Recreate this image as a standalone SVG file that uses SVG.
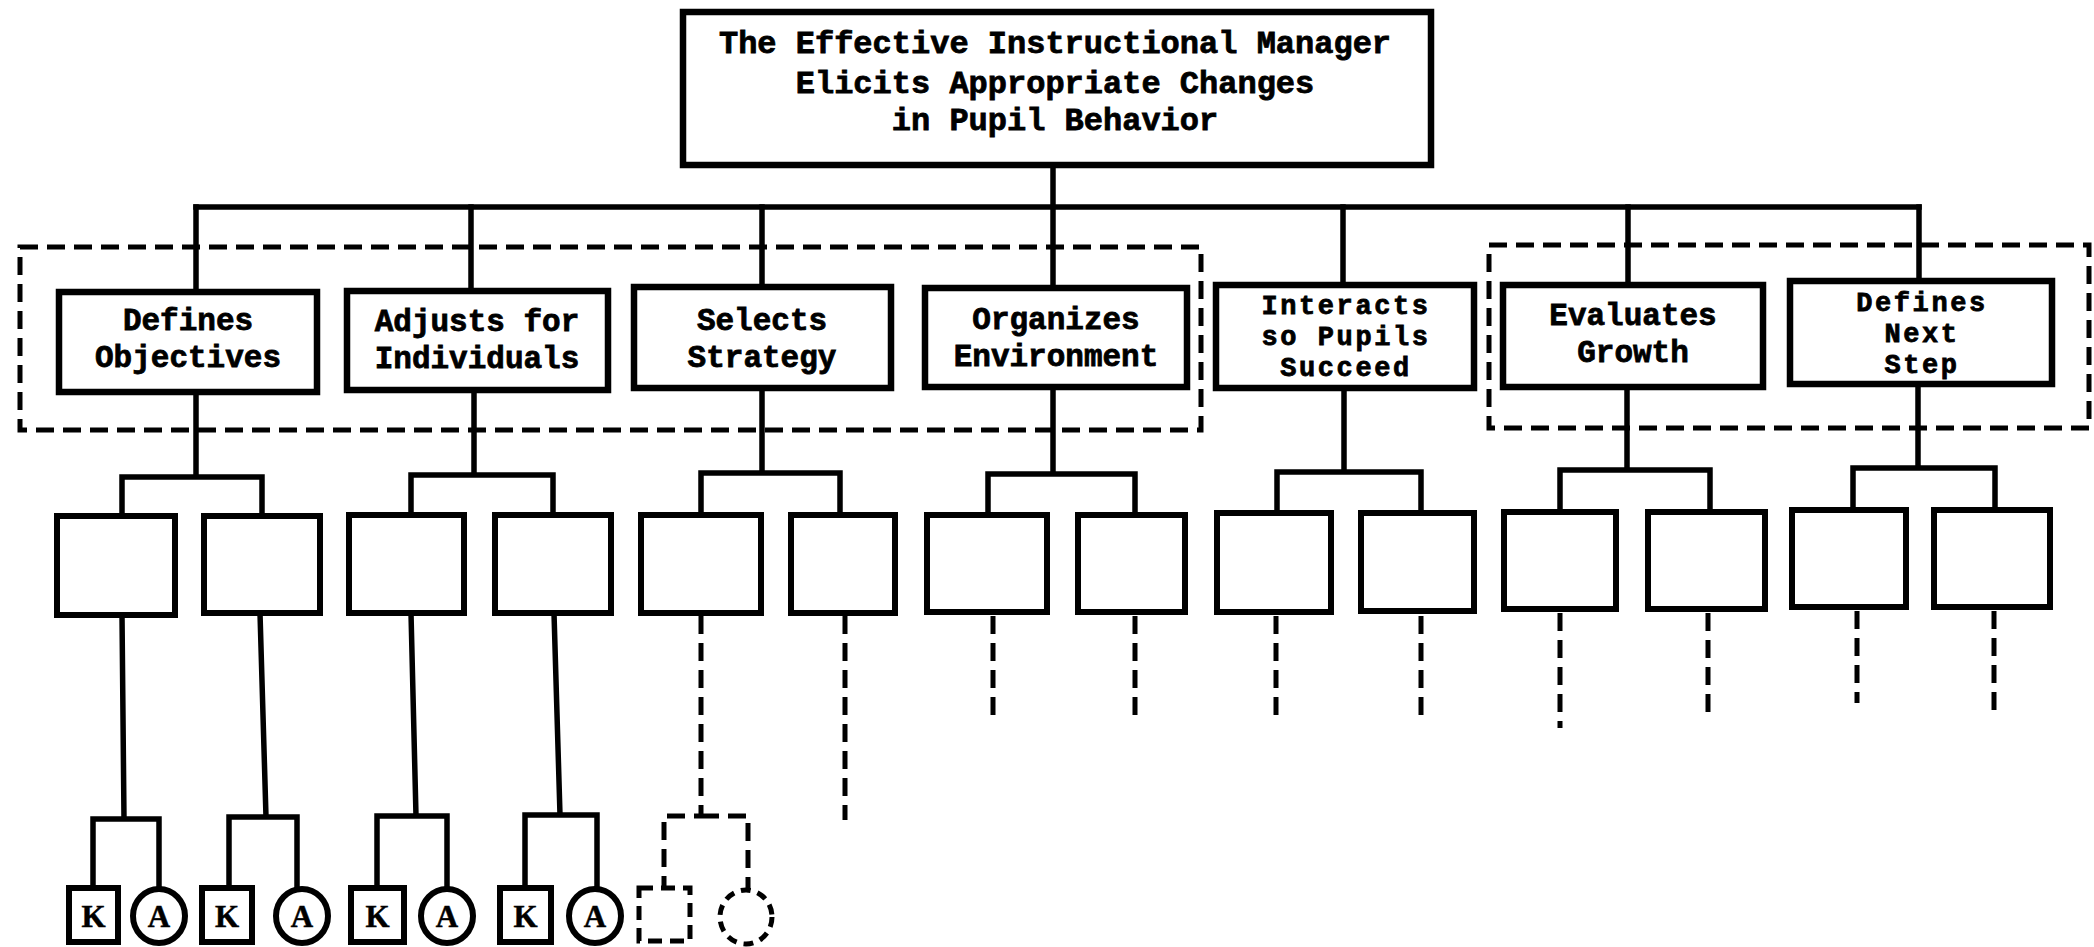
<svg xmlns="http://www.w3.org/2000/svg" width="2094" height="947" viewBox="0 0 2094 947">
<style>
.box{fill:#fff;stroke:#000;stroke-width:6.5;stroke-linejoin:miter}
.sbox{fill:#fff;stroke:#000;stroke-width:6}
.ln{fill:none;stroke:#000;stroke-width:5.5;stroke-linecap:square}
.dl{fill:none;stroke:#000;stroke-width:5;stroke-dasharray:18 9}
.grp{fill:none;stroke:#000;stroke-width:5;stroke-dasharray:18 9}
.t{font-family:"Liberation Mono","Courier New",monospace;font-weight:bold;font-size:31px;fill:#000;text-anchor:middle;stroke:#000;stroke-width:0.8}
.t3{font-size:27px;letter-spacing:2.6px}
.top{font-size:32px}
.ka{font-family:"Liberation Serif","Times New Roman",serif;font-weight:bold;font-size:31px;fill:#000;text-anchor:middle;stroke:#000;stroke-width:0.5}
</style>
<rect width="2094" height="947" fill="#fff"/>

<g id="groups">
<rect class="grp" x="20" y="247" width="1181" height="183"/>
<rect class="grp" x="1489" y="245" width="600" height="183"/>
</g>

<g id="connectors">
<path class="ln" d="M1053 165V288"/>
<path class="ln" d="M196 207H1919"/>
<path class="ln" d="M196 207V292M471 207V291M762 207V287M1343 207V285M1628 207V284M1919 207V280"/>
<path class="ln" d="M196 392V477M122 477H262M122 477V516M262 477V516"/>
<path class="ln" d="M474 390V475M411 475H553M411 475V515M553 475V515"/>
<path class="ln" d="M762 388V473M701 473H840M701 473V515M840 473V515"/>
<path class="ln" d="M1053 387V474M988 474H1135M988 474V515M1135 474V515"/>
<path class="ln" d="M1344 388V472M1277 472H1421M1277 472V513M1421 472V513"/>
<path class="ln" d="M1627 387V470M1560 470H1710M1560 470V512M1710 470V512"/>
<path class="ln" d="M1918 384V468M1853 468H1995M1853 468V510M1995 468V510"/>
<path class="ln" d="M122 615L124 819M93 819H159M93 819V888M159 819V889"/>
<path class="ln" d="M260 613L266 817M229 817H297M229 817V888M297 817V889"/>
<path class="ln" d="M411 613L416 816M377 816H447M377 816V888M447 816V889"/>
<path class="ln" d="M554 613L560 815M525 815H597M525 815V888M597 815V889"/>
<path class="dl" d="M701 616V816H664V887M701 816H748V890"/>
<path class="dl" d="M845 616V820"/>
<path class="dl" d="M993 616V716M1135 616V716"/>
<path class="dl" d="M1276 616V720M1421 616V720"/>
<path class="dl" d="M1560 613V728M1708 613V712"/>
<path class="dl" d="M1857 611V703M1994 611V713"/>
</g>

<g id="root">
<rect class="box" x="683" y="12" width="748" height="153"/>
<text class="t top" x="1055" y="53">The Effective Instructional Manager</text>
<text class="t top" x="1055" y="93">Elicits Appropriate Changes</text>
<text class="t top" x="1055" y="130">in Pupil Behavior</text>
</g>

<g id="n-objectives">
<rect class="box" x="59" y="292" width="258" height="100"/>
<text class="t" x="188" y="330">Defines</text>
<text class="t" x="188" y="367">Objectives</text>
</g>
<g id="n-adjusts">
<rect class="box" x="347" y="291" width="261" height="99"/>
<text class="t" x="477" y="331">Adjusts for</text>
<text class="t" x="477" y="368">Individuals</text>
</g>
<g id="n-selects">
<rect class="box" x="634" y="287" width="257" height="101"/>
<text class="t" x="762" y="330">Selects</text>
<text class="t" x="762" y="367">Strategy</text>
</g>
<g id="n-organizes">
<rect class="box" x="925" y="288" width="262" height="99"/>
<text class="t" x="1056" y="329">Organizes</text>
<text class="t" x="1056" y="366">Environment</text>
</g>
<g id="n-interacts">
<rect class="box" x="1216" y="285" width="258" height="103"/>
<text class="t t3" x="1346" y="314">Interacts</text>
<text class="t t3" x="1346" y="345">so Pupils</text>
<text class="t t3" x="1346" y="376">Succeed</text>
</g>
<g id="n-evaluates">
<rect class="box" x="1503" y="285" width="260" height="102"/>
<text class="t" x="1633" y="325">Evaluates</text>
<text class="t" x="1633" y="362">Growth</text>
</g>
<g id="n-nextstep">
<rect class="box" x="1790" y="281" width="262" height="103"/>
<text class="t t3" x="1922" y="311">Defines</text>
<text class="t t3" x="1922" y="342">Next</text>
<text class="t t3" x="1922" y="373">Step</text>
</g>

<g id="sub-boxes">
<rect class="sbox" x="57" y="516" width="118" height="99"/>
<rect class="sbox" x="204" y="516" width="116" height="97"/>
<rect class="sbox" x="349" y="515" width="115" height="98"/>
<rect class="sbox" x="495" y="515" width="116" height="98"/>
<rect class="sbox" x="641" y="515" width="120" height="98"/>
<rect class="sbox" x="791" y="515" width="104" height="98"/>
<rect class="sbox" x="927" y="515" width="120" height="97"/>
<rect class="sbox" x="1078" y="515" width="107" height="97"/>
<rect class="sbox" x="1217" y="513" width="114" height="99"/>
<rect class="sbox" x="1361" y="513" width="113" height="98"/>
<rect class="sbox" x="1504" y="512" width="112" height="97"/>
<rect class="sbox" x="1648" y="512" width="117" height="97"/>
<rect class="sbox" x="1792" y="510" width="114" height="97"/>
<rect class="sbox" x="1934" y="510" width="116" height="97"/>
</g>

<g id="ka-1">
<rect class="sbox" x="69" y="888" width="49" height="54"/>
<text class="ka" x="93.5" y="927">K</text>
<ellipse class="sbox" cx="159" cy="916" rx="26" ry="27"/>
<text class="ka" x="159" y="927">A</text>
</g>
<g id="ka-2">
<rect class="sbox" x="202" y="888" width="50" height="54"/>
<text class="ka" x="227" y="927">K</text>
<ellipse class="sbox" cx="302" cy="916" rx="26" ry="27"/>
<text class="ka" x="302" y="927">A</text>
</g>
<g id="ka-3">
<rect class="sbox" x="351" y="888" width="53" height="54"/>
<text class="ka" x="377.5" y="927">K</text>
<ellipse class="sbox" cx="447" cy="916" rx="26" ry="27"/>
<text class="ka" x="447" y="927">A</text>
</g>
<g id="ka-4">
<rect class="sbox" x="500" y="888" width="51" height="54"/>
<text class="ka" x="525.5" y="927">K</text>
<ellipse class="sbox" cx="595" cy="916" rx="26" ry="27"/>
<text class="ka" x="595" y="927">A</text>
</g>
<g id="ka-5">
<rect class="dl" x="639" y="888" width="51" height="53" style="stroke-dasharray:14 8"/>
<ellipse class="dl" cx="746" cy="917" rx="26" ry="27" style="stroke-dasharray:10 7"/>
</g>
</svg>
